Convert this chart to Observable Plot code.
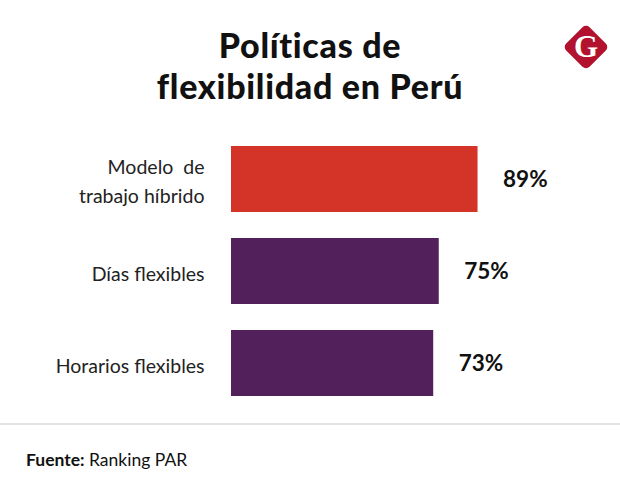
<!DOCTYPE html>
<html>
<head>
<meta charset="utf-8">
<script src="https://cdn.jsdelivr.net/npm/d3@7"></script>
<script src="https://cdn.jsdelivr.net/npm/@observablehq/plot@0.6"></script>
<style>
  html, body { margin: 0; padding: 0; background: #fff; }
  #wrap { position: relative; width: 620px; height: 499px; overflow: hidden; background: #fff; }
  .tl { position: absolute; left: 0; width: 620px; text-align: center; white-space: nowrap;
    font-family: Lato, sans-serif; font-weight: 900; font-size: 34px; line-height: 41px; height: 41px;
    letter-spacing: 0.7px; color: #111; margin: 0; }
  #t1 { top: 24px; }
  #t2 { top: 65px; }
  #logo { position: absolute; left: 560px; top: 21px; }
  #chart { position: absolute; left: 0; top: 120px; }
  #rule { position: absolute; left: 0; top: 423px; width: 620px; height: 2px; background: #e2e2e2; }
  #source { position: absolute; left: 26px; top: 449px; font-family: Lato, sans-serif; font-size: 17.5px; color: #111; }
  #source b { font-weight: 700; }
</style>
</head>
<body>
<div id="wrap">
  <div class="tl" id="t1">Políticas de</div>
  <div class="tl" id="t2">flexibilidad en Perú</div>
  <svg id="logo" width="52" height="52" viewBox="0 0 52 52">
    <rect x="9.5" y="9.5" width="33" height="33" rx="5" fill="#b3122e" transform="rotate(45 26 26)"/>
    <text x="26" y="36" text-anchor="middle" font-family="Liberation Serif, serif" font-weight="700" font-size="31" fill="#fff">G</text>
  </svg>
  <div id="chart"></div>
  <div id="rule"></div>
  <div id="source"><b>Fuente:</b> Ranking PAR</div>
</div>
<script>
const categories = ["Modelo  de\ntrabajo híbrido", "Días flexibles", "Horarios flexibles"];
const values = [89, 75, 73];
const colors = ["#d43328", "#52215c", "#52215c"];

const data = categories.map((c, i) => ({category: c, value: values[i], color: colors[i]}));

const chart = Plot.plot({
  width: 620,
  height: 290,
  marginLeft: 231,
  marginRight: 112,
  marginTop: 26,
  marginBottom: 14,
  x: {domain: [0, 100], axis: null},
  y: {domain: categories, paddingInner: 0.283, paddingOuter: 0, axis: null},
  marks: [
    Plot.barX(data, {x: "value", y: "category", fill: "color"}),
    Plot.text(data, {
      y: "category", text: "category", frameAnchor: "left", textAnchor: "end", dx: -27,
      fontSize: 19.5, lineHeight: 1.44, fill: "#222", fontFamily: "Lato, sans-serif"
    }),
    Plot.text(data, {
      x: "value", y: "category", text: d => d.value + "%", textAnchor: "start", dx: 25,
      fontSize: 22.5, fontWeight: 700, fill: "#111", fontFamily: "Lato, sans-serif"
    })
  ]
});
chart.style.whiteSpace = "pre";
document.getElementById("chart").appendChild(chart);
</script>
</body>
</html>
